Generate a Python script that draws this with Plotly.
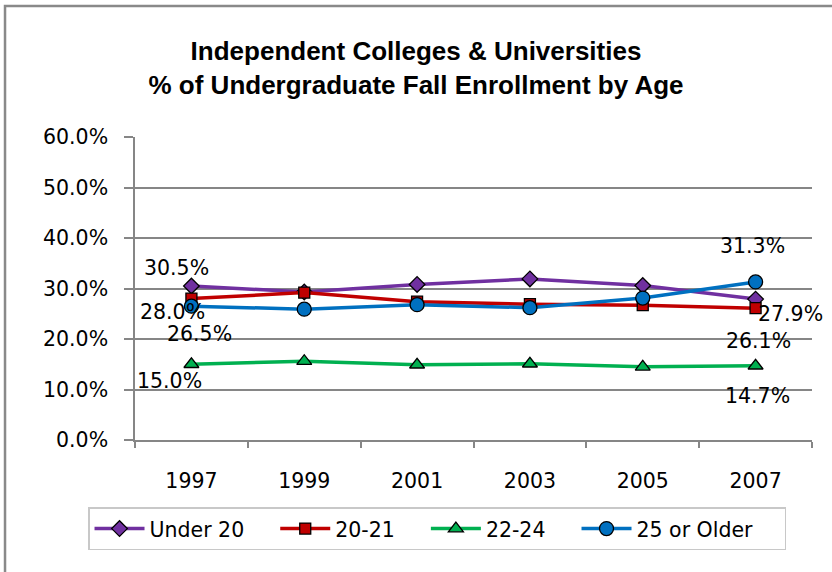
import plotly.graph_objects as go

years = ["1997", "1999", "2001", "2003", "2005", "2007"]
under20 = [30.5, 29.3, 30.8, 31.9, 30.6, 27.9]
age20_21 = [28.0, 29.2, 27.4, 26.9, 26.7, 26.1]
age22_24 = [15.0, 15.6, 14.9, 15.1, 14.5, 14.7]
age25plus = [26.5, 25.9, 26.8, 26.2, 28.1, 31.3]
names = ["Under 20", "20-21", "22-24", "25 or Older"]

NB = "\u00a0\u00a0\u00a0\u00a0"  # spacing after each legend entry
series = [
    (names[0], under20, "#7030A0", "diamond", 12),
    (names[1], age20_21, "#C00000", "square", 11),
    (names[2], age22_24, "#00B050", "triangle-up", 13),
    (names[3], age25plus, "#0070C0", "circle", 14),
]

LBL_FONT = "DejaVu Sans, sans-serif"
LBL_SIZE = 20.5

fig = go.Figure()
for name, vals, color, sym, sz in series:
    fig.add_trace(go.Scatter(
        x=years, y=vals, name=name + NB, mode="lines+markers",
        line=dict(color=color, width=3.5),
        marker=dict(symbol=sym, size=sz, color=color, line=dict(color="black", width=1.3)),
    ))

# data labels (first and last points) with pixel offsets; x given as category index
label_specs = [
    (under20, 0, -15, 18),
    (age20_21, 0, -19, -13),
    (age25plus, 0, 8, -28),
    (age22_24, 0, -22, -17),
    (age25plus, 5, -3, 36),
    (under20, 5, 35, -15),
    (age20_21, 5, 3, -33),
    (age22_24, 5, 2, -30),
]
for vals, i, dx, dy in label_specs:
    fig.add_annotation(x=i, y=vals[i], xref="x", yref="y", text=f"{vals[i]:.1f}%", showarrow=False,
                       xshift=dx, yshift=dy, font=dict(family=LBL_FONT, size=LBL_SIZE, color="black"))

fig.add_shape(type="rect", xref="paper", yref="paper",
              x0=-0.192, x1=1.06, y0=-0.48, y1=1.432,
              line=dict(color="#898989", width=2.5), fillcolor="rgba(0,0,0,0)", layer="below")

fig.update_layout(
    width=832, height=572,
    margin=dict(l=135, r=20, t=137, b=132, autoexpand=False),
    paper_bgcolor="white", plot_bgcolor="white",
    title=dict(text="Independent Colleges & Universities<br>% of Undergraduate Fall Enrollment by Age",
               x=0.5, xanchor="center", y=0.895, yanchor="middle",
               font=dict(family="Liberation Sans, Arial, sans-serif", size=26, color="black", weight="bold")),
    font=dict(family=LBL_FONT, size=LBL_SIZE, color="black"),
    xaxis=dict(type="category", range=[-0.5, 5.5], autorange=False, showgrid=False,
               showline=True, linecolor="#868686", linewidth=1.5,
               ticks="outside", tickson="boundaries", ticklen=6, tickcolor="#868686", tickwidth=1.5,
               tickangle=0, ticklabelstandoff=22, tickfont=dict(family=LBL_FONT, size=LBL_SIZE)),
    yaxis=dict(range=[0, 60], dtick=10, tickformat=".1f", ticksuffix="%",
               showgrid=True, gridcolor="#868686", gridwidth=1.5, zeroline=False,
               showline=True, linecolor="#868686", linewidth=1.5,
               ticks="outside", ticklen=9, tickcolor="#868686", tickwidth=1.5,
               ticklabelstandoff=12, tickfont=dict(family=LBL_FONT, size=LBL_SIZE)),
    showlegend=True,
    legend=dict(orientation="h", x=-0.0694, xanchor="left", y=-0.222, yanchor="top",
                bordercolor="#C8C8C8", borderwidth=1.5, bgcolor="white",
                font=dict(family=LBL_FONT, size=LBL_SIZE), itemwidth=50),
)

fig.write_html("out.html", config={"displayModeBar": False},
               post_script="document.body.style.margin='0';")
